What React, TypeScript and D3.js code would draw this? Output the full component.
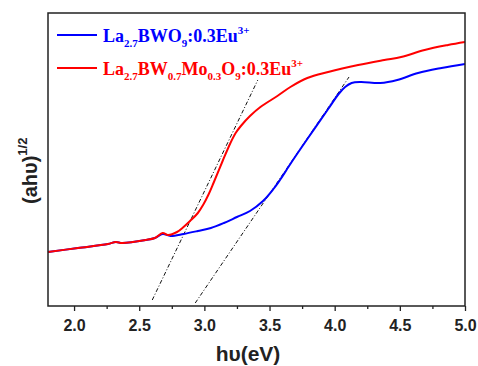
import { useEffect, useRef } from "react";
import * as d3 from "d3";

// photon energy (eV) and (ahv)^1/2 in arbitrary units
const redEnergy = [1.8, 2.03, 2.26, 2.32, 2.37, 2.55, 2.62, 2.68, 2.72, 2.79, 2.84, 2.89, 2.95, 2.99, 3.03, 3.07, 3.14, 3.2, 3.24, 3.28, 3.35, 3.43, 3.56, 3.66, 3.79, 3.95, 4.18, 4.38, 4.51, 4.69, 4.87, 5.0];
const redValue = [0.54, 0.58, 0.62, 0.64, 0.63, 0.66, 0.68, 0.73, 0.71, 0.74, 0.79, 0.85, 0.93, 1.01, 1.11, 1.23, 1.45, 1.63, 1.73, 1.8, 1.9, 1.99, 2.1, 2.19, 2.28, 2.34, 2.41, 2.46, 2.49, 2.56, 2.61, 2.64];

const blueEnergy = [1.8, 2.03, 2.26, 2.32, 2.37, 2.55, 2.62, 2.68, 2.74, 2.84, 2.95, 3.05, 3.15, 3.25, 3.35, 3.45, 3.53, 3.58, 3.63, 3.68, 3.79, 3.95, 4.03, 4.08, 4.13, 4.2, 4.35, 4.48, 4.64, 4.82, 5.0];
const blueValue = [0.54, 0.58, 0.62, 0.64, 0.63, 0.66, 0.68, 0.72, 0.7, 0.72, 0.75, 0.78, 0.83, 0.89, 0.95, 1.05, 1.17, 1.26, 1.36, 1.46, 1.67, 1.97, 2.12, 2.19, 2.23, 2.24, 2.23, 2.26, 2.33, 2.38, 2.42];

// tangent lines used for the band gap
const fitRed = [[2.6, 0.06], [3.41, 2.26]];
const fitBlue = [[2.93, 0.03], [4.11, 2.29]];

const majorTicks = [2.0, 2.5, 3.0, 3.5, 4.0, 4.5, 5.0];
const minorTicks = [2.25, 2.75, 3.25, 3.75, 4.25, 4.75];

function App() {
    const svgRef = useRef(null);
    const width = 478;
    const height = 366;
    const margin = { top: 13, bottom: 60, left: 48, right: 13 };

    useEffect(() => {
        const svg = d3.select(svgRef.current);
        svg.selectAll("*").remove();

        const xScale = d3.scaleLinear()
            .domain([1.8, 5.0])
            .range([margin.left, width - margin.right]);
        const yScale = d3.scaleLinear()
            .domain([0, 2.93])
            .range([height - margin.bottom, margin.top]);

        const line = d3.line()
            .x(d => xScale(d[0]))
            .y(d => yScale(d[1]))
            .curve(d3.curveCatmullRom.alpha(0.5));

        // x axis: major and minor ticks pointing out
        const axisY = height - margin.bottom;
        svg.append("g")
            .attr("transform", `translate(0, ${axisY})`)
            .call(d3.axisBottom(xScale).tickValues(majorTicks).tickSize(5).tickFormat(d3.format(".1f")))
            .call(g => g.select(".domain").remove())
            .call(g => g.selectAll("line").attr("stroke", "#222").attr("stroke-width", 1.3))
            .call(g => g.selectAll("text")
                .attr("font-family", "Liberation Sans, Arial, sans-serif")
                .attr("font-weight", "bold")
                .attr("font-size", 16)
                .attr("fill", "#222")
                .attr("dy", "1.05em"));
        svg.append("g")
            .attr("transform", `translate(0, ${axisY})`)
            .call(d3.axisBottom(xScale).tickValues(minorTicks).tickSize(3).tickFormat(() => ""))
            .call(g => g.select(".domain").remove())
            .call(g => g.selectAll("line").attr("stroke", "#222").attr("stroke-width", 1.3));

        // tangent lines
        [fitRed, fitBlue].forEach(f => {
            svg.append("path")
                .datum(f)
                .attr("d", d3.line().x(d => xScale(d[0])).y(d => yScale(d[1])))
                .attr("fill", "none")
                .attr("stroke", "#111")
                .attr("stroke-width", 1)
                .attr("stroke-dasharray", "4,2,1,2");
        });

        // curves
        const series = [
            { xs: blueEnergy, ys: blueValue, color: "#0000ff" },
            { xs: redEnergy, ys: redValue, color: "#ff0000" },
        ];
        series.forEach(s => {
            svg.append("path")
                .datum(s.xs.map((x, i) => [x, s.ys[i]]))
                .attr("d", line)
                .attr("fill", "none")
                .attr("stroke", s.color)
                .attr("stroke-width", 2);
        });

        // frame
        svg.append("rect")
            .attr("x", margin.left)
            .attr("y", margin.top)
            .attr("width", width - margin.left - margin.right)
            .attr("height", height - margin.top - margin.bottom)
            .attr("fill", "none")
            .attr("stroke", "#222")
            .attr("stroke-width", 1.5);

        // legend
        const legend = [
            { color: "#0000ff", parts: [["La", 0], ["2.7", 1], ["BWO", 0], ["9", 1], [":0.3Eu", 0], ["3+", 2]] },
            { color: "#ff0000", parts: [["La", 0], ["2.7", 1], ["BW", 0], ["0.7", 1], ["Mo", 0], ["0.3", 1], ["O", 0], ["9", 1], [":0.3Eu", 0], ["3+", 2]] },
        ];
        legend.forEach((item, i) => {
            const y = 35 + i * 33;
            svg.append("line")
                .attr("x1", 57).attr("x2", 97)
                .attr("y1", y).attr("y2", y)
                .attr("stroke", item.color)
                .attr("stroke-width", 2);
            const text = svg.append("text")
                .attr("x", 103)
                .attr("y", y + 7)
                .attr("font-family", "Liberation Serif, Times New Roman, serif")
                .attr("font-weight", "bold")
                .attr("font-size", 18)
                .attr("fill", item.color);
            let shift = 0;
            item.parts.forEach(([t, kind]) => {
                const target = kind === 1 ? 5 : kind === 2 ? -8 : 0;
                text.append("tspan")
                    .attr("dy", target - shift)
                    .attr("font-size", kind === 0 ? 18 : 11)
                    .text(t);
                shift = target;
            });
        });

        // axis titles
        svg.append("text")
            .attr("x", 248)
            .attr("y", 361)
            .attr("text-anchor", "middle")
            .attr("font-family", "Liberation Sans, Arial, sans-serif")
            .attr("font-weight", "bold")
            .attr("font-size", 21)
            .attr("fill", "#222")
            .text("hυ(eV)");

        const yTitle = svg.append("text")
            .attr("transform", "translate(37, 204) rotate(-90)")
            .attr("font-family", "Liberation Sans, Arial, sans-serif")
            .attr("font-weight", "bold")
            .attr("font-size", 20)
            .attr("fill", "#222");
        yTitle.append("tspan").text("(ahυ)");
        yTitle.append("tspan").attr("dy", -10).attr("font-size", 13).text("1/2");
    }, []);

    return (
        <svg ref={svgRef} width={width} height={height}
            style={{ position: "absolute", left: 0, top: 0, background: "#fff" }}></svg>
    );
}

export default App;
